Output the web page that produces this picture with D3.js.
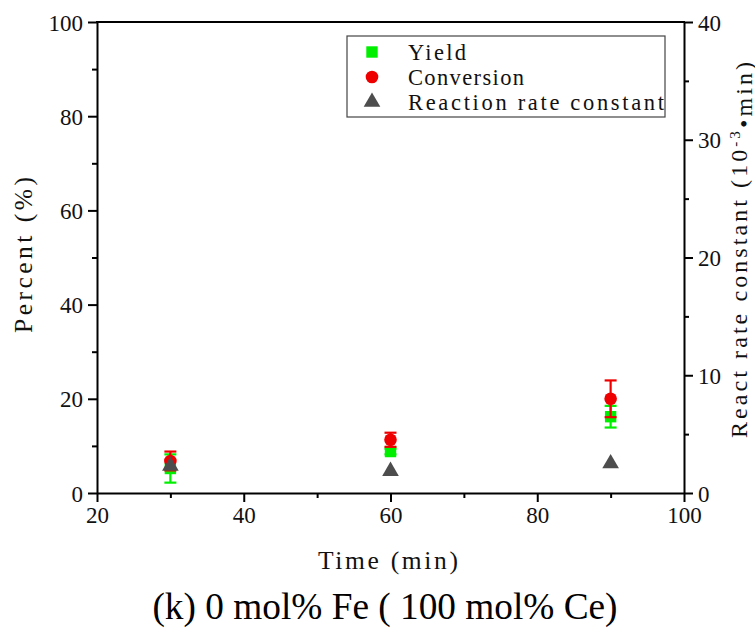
<!DOCTYPE html>
<html>
<head>
<meta charset="utf-8">
<title>Yield / Conversion / Rate constant</title>
<script src="https://cdn.jsdelivr.net/npm/d3@7"></script>
<style>
body { margin: 0; background: #fff; }
.tick text { font-family: "Liberation Serif", "Times New Roman", serif; font-size: 23px; fill: #111; }
.axis path, .axis line { stroke: #000; stroke-width: 2px; }
.lbl { font-family: "Liberation Serif", "Times New Roman", serif; fill: #111; }
</style>
</head>
<body>
<script>

// data
var times = [30, 60, 90];
var yieldVals = [5.2, 8.8, 16.2];
var yieldErr = [3.0, 0.6, 2.3];
var convVals = [6.8, 11.3, 20.0];
var convErr = [2.0, 1.5, 3.9];
var rateVals = [2.3, 1.85, 2.5];

var xTicks = [20, 40, 60, 80, 100];
var yTicks = [0, 20, 40, 60, 80, 100];
var y2Ticks = [0, 10, 20, 30, 40];

var W = 755, H = 629;
var mLeft = 97, mRight = 684, mTop = 22, mBottom = 493;

var svg = d3.select("body").append("svg")
    .attr("width", W).attr("height", H);

var x = d3.scaleLinear().domain([20, 100]).range([mLeft, mRight]);
var y = d3.scaleLinear().domain([0, 100]).range([mBottom, mTop]);
var y2 = d3.scaleLinear().domain([0, 40]).range([mBottom, mTop]);

// minor ticks first, then majors on top
svg.append("g").attr("class", "axis")
    .attr("transform", "translate(0," + mBottom + ")")
    .call(d3.axisBottom(x).tickValues([30, 50, 70, 90]).tickSize(5).tickFormat(""))
    .select(".domain").remove();
svg.append("g").attr("class", "axis")
    .attr("transform", "translate(" + mLeft + ",0)")
    .call(d3.axisLeft(y).tickValues([10, 30, 50, 70, 90]).tickSize(5).tickFormat(""))
    .select(".domain").remove();
svg.append("g").attr("class", "axis")
    .attr("transform", "translate(" + mRight + ",0)")
    .call(d3.axisRight(y2).tickValues([5, 15, 25, 35]).tickSize(5).tickFormat(""))
    .select(".domain").remove();

var xa = svg.append("g").attr("class", "axis")
    .attr("transform", "translate(0," + mBottom + ")")
    .call(d3.axisBottom(x).tickValues(xTicks).tickSize(9).tickSizeOuter(0).tickPadding(5));
var ya = svg.append("g").attr("class", "axis")
    .attr("transform", "translate(" + mLeft + ",0)")
    .call(d3.axisLeft(y).tickValues(yTicks).tickSize(9).tickSizeOuter(0).tickPadding(5));
var y2a = svg.append("g").attr("class", "axis")
    .attr("transform", "translate(" + mRight + ",0)")
    .call(d3.axisRight(y2).tickValues(y2Ticks).tickSize(9).tickSizeOuter(0).tickPadding(5));
ya.selectAll(".tick text").attr("dy", "0.35em");
y2a.selectAll(".tick text").attr("dy", "0.35em");

// top frame line
svg.append("line")
    .attr("x1", mLeft - 1).attr("x2", mRight + 1)
    .attr("y1", mTop).attr("y2", mTop)
    .attr("stroke", "#000").attr("stroke-width", 2);

// error bars
function errorBars(vals, errs, color) {
    var g = svg.append("g").attr("stroke", color).attr("stroke-width", 2.2);
    times.forEach(function(t, i) {
        var cx = x(t), y0 = y(vals[i] - errs[i]), y1 = y(vals[i] + errs[i]);
        g.append("line").attr("x1", cx).attr("x2", cx).attr("y1", y0).attr("y2", y1);
        g.append("line").attr("x1", cx - 6).attr("x2", cx + 6).attr("y1", y0).attr("y2", y0);
        g.append("line").attr("x1", cx - 6).attr("x2", cx + 6).attr("y1", y1).attr("y2", y1);
    });
}

var sq = d3.symbol().type(d3.symbolSquare).size(130);
var ci = d3.symbol().type(d3.symbolCircle).size(125);
var tri = d3.symbol().type(d3.symbolTriangle).size(120);

errorBars(yieldVals, yieldErr, "#00ee00");
svg.append("g").selectAll("path").data(times).join("path")
    .attr("d", sq)
    .attr("transform", function(t, i) { return "translate(" + x(t) + "," + y(yieldVals[i]) + ")"; })
    .attr("fill", "#00ee00");

errorBars(convVals, convErr, "#ee0000");
svg.append("g").selectAll("path").data(times).join("path")
    .attr("d", ci)
    .attr("transform", function(t, i) { return "translate(" + x(t) + "," + y(convVals[i]) + ")"; })
    .attr("fill", "#ee0000");

svg.append("g").selectAll("path").data(times).join("path")
    .attr("d", tri)
    .attr("transform", function(t, i) { return "translate(" + x(t) + "," + y2(rateVals[i]) + ")"; })
    .attr("fill", "#4d4d4d");

// legend
var lg = svg.append("g");
lg.append("rect")
    .attr("x", 347).attr("y", 36).attr("width", 318).attr("height", 81)
    .attr("fill", "#fff").attr("stroke", "#444").attr("stroke-width", 1.2);
var items = [
    { name: "Yield", sym: sq, color: "#00ee00", w: 58 },
    { name: "Conversion", sym: ci, color: "#ee0000", w: 116 },
    { name: "Reaction rate constant", sym: tri, color: "#4d4d4d", w: 256 }
];
items.forEach(function(d, i) {
    var yy = 52 + i * 25;
    lg.append("path").attr("d", d.sym)
        .attr("transform", "translate(372," + yy + ")")
        .attr("fill", d.color);
    lg.append("text").attr("class", "lbl")
        .attr("x", 408).attr("y", yy).attr("dy", "0.35em")
        .attr("textLength", d.w).attr("lengthAdjust", "spacing")
        .style("font-size", "22.5px")
        .text(d.name);
});

// axis titles
svg.append("text").attr("class", "lbl")
    .attr("x", 318).attr("y", 569)
    .attr("textLength", 140).attr("lengthAdjust", "spacing")
    .style("font-size", "25.5px")
    .text("Time (min)");

svg.append("text").attr("class", "lbl")
    .attr("transform", "translate(32,333) rotate(-90)")
    .attr("textLength", 156).attr("lengthAdjust", "spacing")
    .style("font-size", "25.5px")
    .text("Percent (%)");

var rt = svg.append("text").attr("class", "lbl")
    .attr("transform", "translate(747,438) rotate(-90)")
    .attr("textLength", 376).attr("lengthAdjust", "spacing")
    .style("font-size", "24px");
rt.append("tspan").text("React rate constant (10");
rt.append("tspan").attr("dy", "-0.5em").style("font-size", "15px").text("-3");
rt.append("tspan").attr("dy", "0.5em").text("•min)");

// caption
svg.append("text")
    .attr("x", 385).attr("y", 619)
    .attr("text-anchor", "middle")
    .style("font-family", "'Liberation Serif', 'Times New Roman', serif")
    .style("font-size", "37.3px")
    .style("fill", "#000")
    .text("(k) 0 mol% Fe ( 100 mol% Ce)");

</script>
</body>
</html>
